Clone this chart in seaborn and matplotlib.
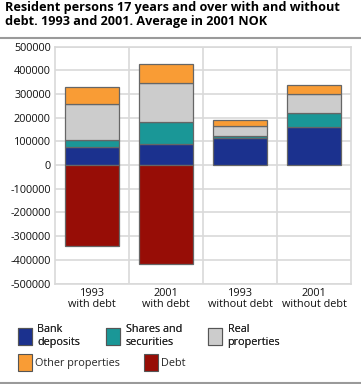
import matplotlib
matplotlib.use("Agg")
import matplotlib.pyplot as plt
import seaborn as sns
import numpy as np
from matplotlib.patches import Patch
from matplotlib.lines import Line2D

categories = ["1993\nwith debt", "2001\nwith debt", "1993\nwithout debt", "2001\nwithout debt"]
bank_deposits = [75000, 88000, 113000, 163000]
shares_securities = [29000, 92000, 11000, 56000]
real_properties = [155000, 165000, 43000, 82000]
other_properties = [71000, 80000, 22000, 39000]
debt = [-342000, -418000, 0, 0]

series_names = ["Bank\ndeposits", "Shares and\nsecurities", "Real\nproperties", "Other properties", "Debt"]
colors = ["#1b318e", "#1a9797", "#cccccc", "#f99c35", "#970d06"]
y_ticks = [500000, 400000, 300000, 200000, 100000, 0, -100000, -200000, -300000, -400000, -500000]

sns.set_theme(style="white")
plt.rcParams["font.family"] = ["Open Sans", "DejaVu Sans"]

fig = plt.figure(figsize=(3.61, 3.84), dpi=100)
ax = fig.add_axes([55/361, 1-283.5/384, 296/361, (283.5-46.7)/384])

x = np.arange(len(categories))
cum = np.zeros(len(categories))
pos_series = [bank_deposits, shares_securities, real_properties, other_properties]
for vals, col in zip(pos_series, colors[:4]):
    vals = np.array(vals, dtype=float)
    sns.barplot(x=x, y=vals, bottom=cum, color=col, width=0.72, ax=ax,
                edgecolor="#666666", linewidth=0.9, saturation=1, zorder=3)
    cum += vals
debt_arr = np.array(debt, dtype=float)
sns.barplot(x=x, y=debt_arr, color=colors[4], width=0.72, ax=ax,
            edgecolor="#666666", linewidth=0.9, saturation=1, zorder=3)
for p in ax.patches:
    if p.get_height() == 0:
        p.set_visible(False)

ax.set_ylim(-500000, 500000)
ax.set_xlim(-0.5, 3.5)
ax.set_yticks(y_ticks)
ax.set_yticklabels([str(v) for v in y_ticks], fontsize=7.8, color="#111111")
ax.set_xticks(x)
ax.set_xticklabels(categories, fontsize=7.8, color="#111111", linespacing=1.1)
ax.set_xlabel("")
ax.set_ylabel("")
ax.tick_params(axis="both", length=0, pad=3)
for b in [0.5, 1.5, 2.5]:
    ax.axvline(b, color="#d9d9d9", lw=1.2, zorder=0)
ax.grid(axis="y", color="#d9d9d9", lw=1.2, zorder=0)
for s in ax.spines.values():
    s.set_color("#d9d9d9")
    s.set_linewidth(1.2)

fig.text(5/361, 1-1.5/384, "Resident persons 17 years and over with and without\ndebt. 1993 and 2001. Average in 2001 NOK",
         ha="left", va="top", fontsize=9.1, fontweight="bold", color="#000000", linespacing=1.08)
fig.add_artist(Line2D([0, 1], [1-37.5/384, 1-37.5/384], color="#9a9a9a", lw=1.5, transform=fig.transFigure))
fig.add_artist(Line2D([0, 1], [1-382.5/384, 1-382.5/384], color="#9a9a9a", lw=1.5, transform=fig.transFigure))

handles = [Patch(facecolor=c, edgecolor="#555555", linewidth=0.8) for c in colors]
leg1 = fig.legend(handles[:3], series_names[:3], loc="upper left", bbox_to_anchor=(18/361, 1-324/384),
                  ncol=3, frameon=False, fontsize=7.8, handlelength=1.3, handleheight=2.0,
                  handletextpad=0.5, columnspacing=2.4, borderaxespad=0, borderpad=0, labelspacing=0.3)
fig.add_artist(leg1)
leg2 = fig.legend(handles[3:], series_names[3:], loc="upper left", bbox_to_anchor=(18/361, 1-354/384),
                  ncol=2, frameon=False, fontsize=7.8, handlelength=1.3, handleheight=2.0,
                  handletextpad=0.3, columnspacing=2.2, borderaxespad=0, borderpad=0)

fig.savefig("out.png", dpi=100)
